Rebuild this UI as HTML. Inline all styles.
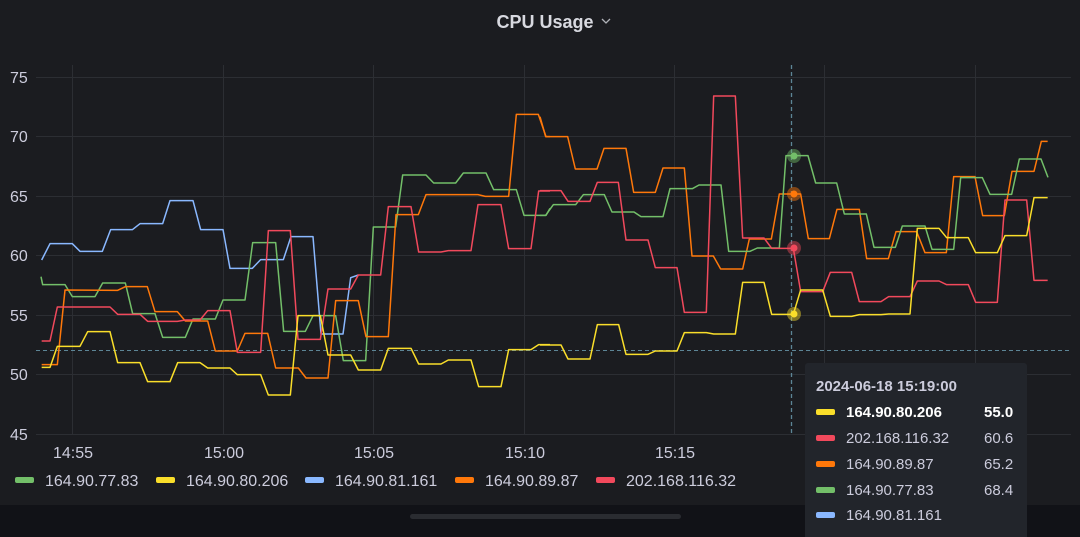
<!DOCTYPE html>
<html><head><meta charset="utf-8"><style>
body{margin:0;background:#111217;width:1080px;height:537px;overflow:hidden;font-family:"Liberation Sans",sans-serif}
</style></head><body>
<svg width="1080" height="537" xmlns="http://www.w3.org/2000/svg" style="position:absolute;left:0;top:0">
<rect x="0" y="0" width="1080" height="505" fill="#1b1c20"/>
<rect x="410" y="514" width="271" height="5" rx="2.5" fill="#2a2c31"/>
<text x="545" y="28" fill="#d8d9e0" font-size="18" font-weight="bold" text-anchor="middle">CPU Usage</text>
<path d="M602 19 l4 4 l4 -4" stroke="#b0b2b8" stroke-width="1.3" fill="none"/>
<g stroke="#2c2e33" stroke-width="1">
<line x1="36" x2="1071" y1="77.5" y2="77.5"/><line x1="36" x2="1071" y1="136.5" y2="136.5"/><line x1="36" x2="1071" y1="196.5" y2="196.5"/><line x1="36" x2="1071" y1="255.5" y2="255.5"/><line x1="36" x2="1071" y1="315.5" y2="315.5"/><line x1="36" x2="1071" y1="374.5" y2="374.5"/><line x1="36" x2="1071" y1="434.5" y2="434.5"/>
<line x1="72.5" x2="72.5" y1="65" y2="434"/><line x1="223.5" x2="223.5" y1="65" y2="434"/><line x1="373.5" x2="373.5" y1="65" y2="434"/><line x1="524.5" x2="524.5" y1="65" y2="434"/><line x1="674.5" x2="674.5" y1="65" y2="434"/><line x1="824.5" x2="824.5" y1="65" y2="434"/><line x1="975.5" x2="975.5" y1="65" y2="434"/>
</g>
<g fill="#ccccdc" font-size="16">
<text x="10" y="83">75</text><text x="10" y="142">70</text><text x="10" y="202">65</text><text x="10" y="261">60</text><text x="10" y="321">55</text><text x="10" y="380">50</text><text x="10" y="440">45</text>
</g>
<g fill="#ccccdc" font-size="16" text-anchor="middle">
<text x="73" y="458">14:55</text><text x="224" y="458">15:00</text><text x="374" y="458">15:05</text><text x="525" y="458">15:10</text><text x="675" y="458">15:15</text>
</g>
<line x1="36" x2="1071" y1="350.5" y2="350.5" stroke="#5d8596" stroke-width="1" stroke-dasharray="4,3"/>
<g fill="none" stroke-width="1.5" stroke-linejoin="round">
<g transform="translate(30,60) scale(0.33333)">
<polyline vector-effect="non-scaling-stroke" stroke="#8ab8ff" points="35,600 60,551 127,551 150,574 217,574 242,509 307,509 330,491 398,491 420,422 489,422 512,509 579,509 600,625 667,625 692,599 760,599 783,530 849,530 873,822 939,822 962,653 985,645"/>
<polyline vector-effect="non-scaling-stroke" stroke="#73bf69" points="33,650 38,674 105,674 127,710 195,710 218,669 286,669 308,761 375,761 398,832 466,832 489,777 556,777 579,720 645,720 668,548 737,548 761,814 826,814 849,767 917,767 940,902 1007,902 1030,501 1097,501 1118,345 1188,345 1211,369 1277,369 1300,339 1368,339 1391,389 1459,389 1482,466 1548,466 1560,445"/>
<polyline vector-effect="non-scaling-stroke" stroke="#ff780a" points="35,914 82,914 105,690 263,691 286,680 352,680 375,755 442,755 466,783 533,783 556,873 622,873 645,820 713,820 737,924 805,924 828,954 894,954 917,722 985,722 1008,830 1075,830 1098,464 1165,464 1188,404 1344,404 1366,409 1436,409 1459,163 1525,163 1548,230 1560,230"/>
<polyline vector-effect="non-scaling-stroke" stroke="#f2495c" points="35,843 60,843 82,741 240,741 263,763 330,763 353,784 442,784 466,780 510,780 533,752 600,752 622,877 692,877 715,512 781,512 804,838 871,838 894,687 962,687 985,645 1052,645 1075,440 1143,440 1166,576 1233,576 1255,572 1323,572 1344,434 1413,434 1436,566 1503,566 1526,393 1560,393"/>
<polyline vector-effect="non-scaling-stroke" stroke="#fade2a" points="35,922 60,922 82,859 150,859 173,815 240,815 263,908 330,908 353,965 420,965 443,908 510,908 533,924 600,924 622,944 692,944 715,1005 781,1005 804,767 871,767 894,885 962,885 985,930 1052,930 1075,865 1143,865 1166,912 1233,912 1255,900 1323,900 1346,980 1413,980 1436,869 1503,869 1526,854 1560,854"/>
</g>
<g transform="translate(540,60) scale(0.33333)">
<polyline vector-effect="non-scaling-stroke" stroke="#ff780a" points="0,170 17,230 83,230 106,327 171,327 192,265 258,265 281,397 346,397 369,324 433,324 456,588 520,588 542,627 608,627 628,537 694,537 718,402 782,402 805,536 868,536 891,448 958,448 980,596 1045,596 1068,515 1130,515 1155,578 1219,578 1241,350 1305,350 1328,467 1393,467 1416,334 1482,334 1504,244 1523,244"/>
<polyline vector-effect="non-scaling-stroke" stroke="#73bf69" points="0,466 17,466 40,434 107,434 130,404 193,404 216,456 282,456 303,470 369,470 390,386 457,386 477,375 543,375 566,574 630,574 652,564 718,564 738,287 804,287 827,369 890,369 913,462 979,462 1002,562 1066,562 1087,498 1155,498 1176,568 1241,568 1262,353 1327,353 1350,403 1415,403 1438,297 1503,297 1524,352"/>
<polyline vector-effect="non-scaling-stroke" stroke="#f2495c" points="0,392 63,392 84,424 150,424 172,367 235,367 258,540 324,540 346,623 411,623 433,757 499,757 521,108 586,108 608,534 672,534 695,565 760,565 782,695 848,695 871,637 935,637 958,725 1023,725 1046,710 1110,710 1132,663 1197,663 1220,674 1285,674 1307,727 1372,727 1395,420 1460,420 1482,661 1523,661"/>
<polyline vector-effect="non-scaling-stroke" stroke="#fade2a" points="0,855 63,855 84,897 150,897 172,794 236,794 258,883 324,883 346,873 411,873 433,818 499,818 521,822 586,822 608,667 672,667 695,763 760,763 782,690 848,690 871,769 935,769 958,764 1023,764 1046,762 1110,762 1132,505 1197,505 1220,533 1285,533 1307,578 1372,578 1395,527 1460,527 1482,413 1523,413"/>
</g>
</g>
<line x1="791.5" x2="791.5" y1="65" y2="434" stroke="#5d8596" stroke-width="1.3" stroke-dasharray="4,3"/>
<g>
<circle cx="794" cy="156" r="7" fill="#73bf69" opacity="0.45"/><circle cx="794" cy="156" r="3.5" fill="#73bf69"/>
<circle cx="794" cy="194" r="7" fill="#ff780a" opacity="0.45"/><circle cx="794" cy="194" r="3.5" fill="#ff780a"/>
<circle cx="794" cy="248" r="7" fill="#f2495c" opacity="0.45"/><circle cx="794" cy="248" r="3.5" fill="#f2495c"/>
<circle cx="794" cy="314" r="7" fill="#fade2a" opacity="0.45"/><circle cx="794" cy="314" r="3.5" fill="#fade2a"/>
</g>
<g font-size="16" fill="#ccccdc">
<rect x="15" y="477" width="19" height="6" rx="2" fill="#73bf69"/><text x="45" y="486">164.90.77.83</text>
<rect x="156" y="477" width="19" height="6" rx="2" fill="#fade2a"/><text x="186" y="486">164.90.80.206</text>
<rect x="305" y="477" width="19" height="6" rx="2" fill="#8ab8ff"/><text x="335" y="486">164.90.81.161</text>
<rect x="455" y="477" width="19" height="6" rx="2" fill="#ff780a"/><text x="485" y="486">164.90.89.87</text>
<rect x="596" y="477" width="19" height="6" rx="2" fill="#f2495c"/><text x="626" y="486">202.168.116.32</text>
</g>
<rect x="805" y="363" width="222" height="180" rx="3" fill="#22252b"/>
<g font-size="15" fill="#ccccdc">
<text x="816" y="391" font-weight="bold">2024-06-18 15:19:00</text>
<rect x="816" y="409" width="19" height="6" rx="2" fill="#fade2a"/><text x="846" y="417" font-weight="bold" fill="#ffffff">164.90.80.206</text><text x="984" y="417" font-weight="bold" fill="#ffffff">55.0</text>
<rect x="816" y="435" width="19" height="6" rx="2" fill="#f2495c"/><text x="846" y="443">202.168.116.32</text><text x="984" y="443">60.6</text>
<rect x="816" y="461" width="19" height="6" rx="2" fill="#ff780a"/><text x="846" y="469">164.90.89.87</text><text x="984" y="469">65.2</text>
<rect x="816" y="487" width="19" height="6" rx="2" fill="#73bf69"/><text x="846" y="495">164.90.77.83</text><text x="984" y="495">68.4</text>
<rect x="816" y="512" width="19" height="6" rx="2" fill="#8ab8ff"/><text x="846" y="520">164.90.81.161</text>
</g>
</svg>
</body></html>
